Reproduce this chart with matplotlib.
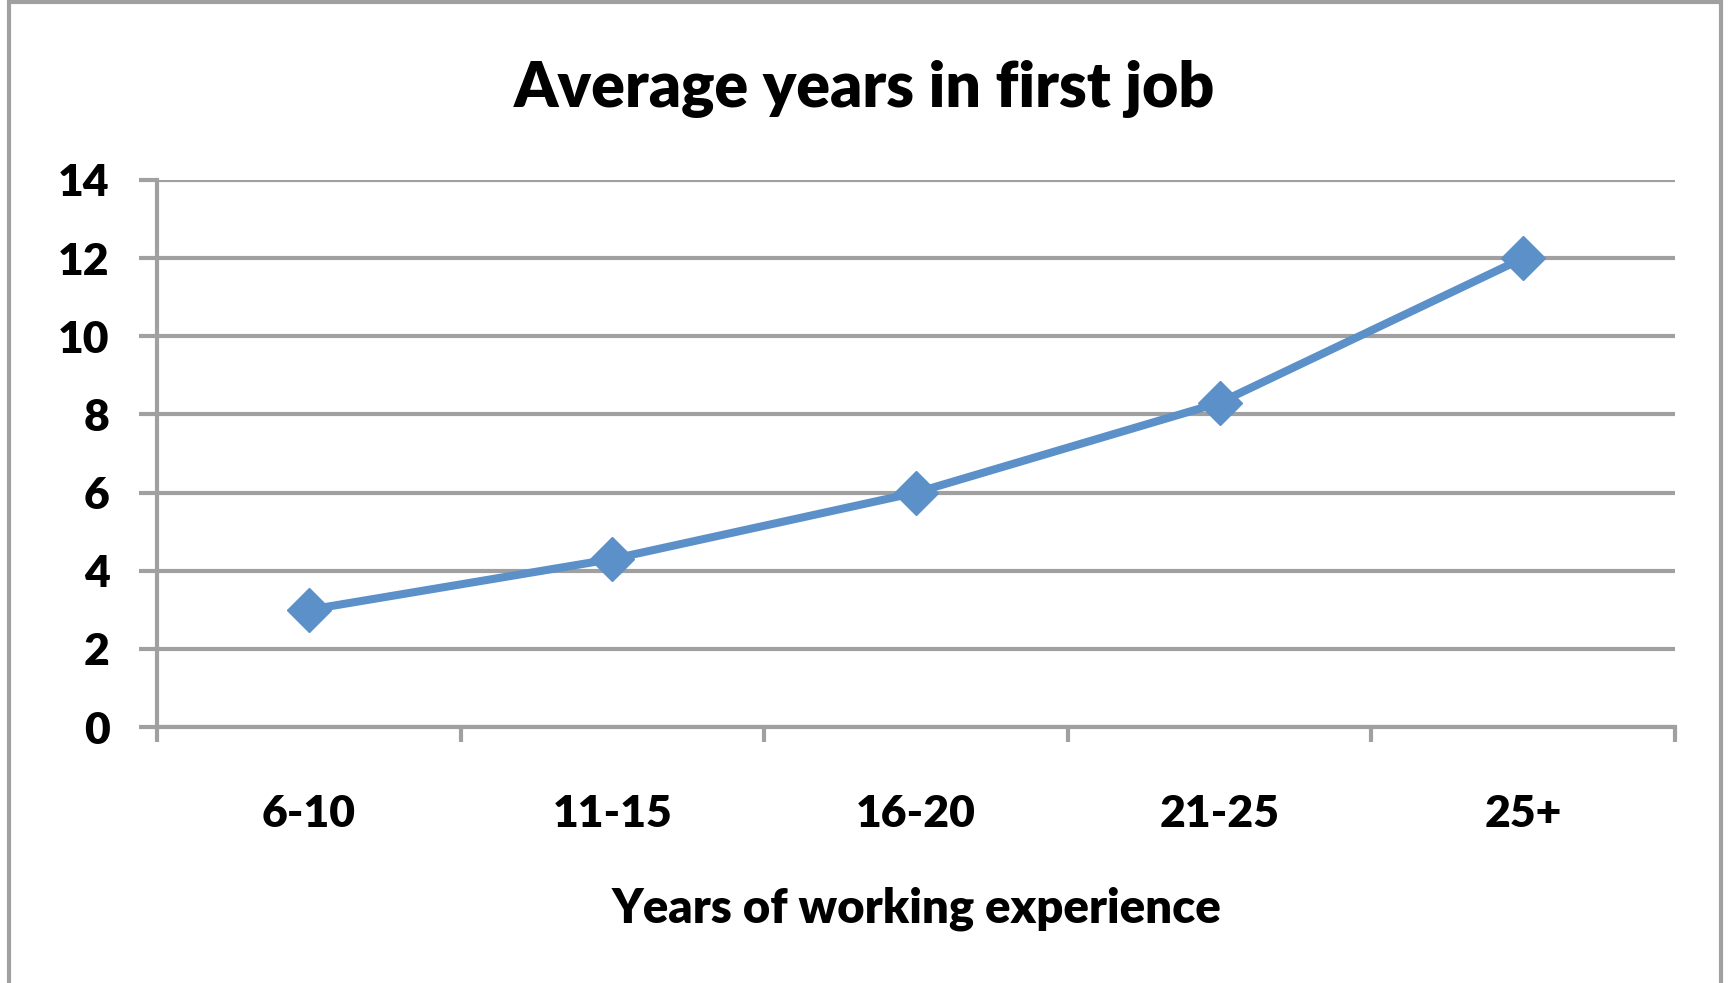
import numpy as np
import matplotlib.pyplot as plt
from matplotlib.patches import Rectangle

# data
categories = ['6-10', '11-15', '16-20', '21-25', '25+']
avg_years = [3.0, 4.3, 6.0, 8.3, 12.0]
y_ticks = [0, 2, 4, 6, 8, 10, 12, 14]

grid_grey = '#a0a0a0'
line_blue = '#5b90c8'

plt.rcParams['font.family'] = ['Lato', 'DejaVu Sans']
plt.rcParams['font.weight'] = 'heavy'

W, H = 1729, 983
fig = plt.figure(figsize=(W / 100, H / 100), dpi=100)
# plot area in pixels: left 157, right 1675, top 180, bottom 727
ax = fig.add_axes([157 / W, 1 - 727 / H, (1675 - 157) / W, (727 - 180) / H])

x = np.arange(len(categories))
ax.plot(x, avg_years, color=line_blue, lw=5.8, marker='D', ms=22,
        markeredgecolor=line_blue, zorder=3, clip_on=False)

ax.set_xlim(-0.5, len(categories) - 0.5)
ax.set_ylim(0, 14)
ax.set_yticks(y_ticks)
ax.set_yticklabels([str(v) for v in y_ticks], fontsize=32, fontweight='heavy')
ax.set_xticks(x)
ax.set_xticklabels(categories, fontsize=32, fontweight='heavy')
ax.set_xticks(np.arange(-0.5, len(categories)), minor=True)

ax.grid(axis='y', color=grid_grey, lw=3, zorder=1)
ax.set_axisbelow(True)
for s in ['top', 'right']:
    ax.spines[s].set_visible(False)
for s in ['left', 'bottom']:
    ax.spines[s].set_color(grid_grey)
    ax.spines[s].set_linewidth(3)

ax.tick_params(axis='y', length=13, width=3, color=grid_grey, pad=21)
ax.tick_params(axis='x', which='major', length=0, pad=48)
ax.tick_params(axis='x', which='minor', length=11, width=3, color=grid_grey)

ax.set_xlabel('Years of working experience', fontsize=34, fontweight='heavy', labelpad=38)
fig.text(0.5, 1 - 89 / H, 'Average years in first job', ha='center', va='center',
         fontsize=45, fontweight='heavy')

# chart border
fig.patches.append(Rectangle((9 / W, -0.05), (1721 - 9) / W, 1.05 - 2 / H,
                             transform=fig.transFigure, fill=False,
                             edgecolor=grid_grey, lw=3))

fig.savefig('out.png', dpi=100)
